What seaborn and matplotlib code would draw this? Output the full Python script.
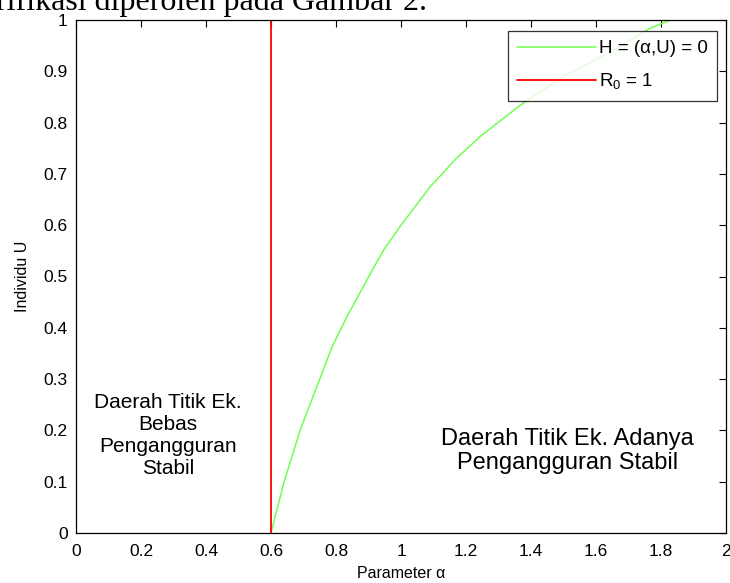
import numpy as np
import pandas as pd
import matplotlib
matplotlib.use("Agg")
import matplotlib.pyplot as plt
import seaborn as sns

# Data
h_alpha = [0.60, 0.639, 0.690, 0.75, 0.788, 0.834, 0.906, 0.947, 1.00, 1.09,
           1.17, 1.244, 1.367, 1.50, 1.65, 1.767, 1.829]
h_u = [0.0, 0.097, 0.201, 0.30, 0.363, 0.422, 0.506, 0.552, 0.60, 0.675,
       0.73, 0.773, 0.834, 0.89, 0.94, 0.984, 1.0]
r0_alpha = [0.6, 0.6]
r0_u = [0.0, 1.0]
x_ticks = [0, 0.2, 0.4, 0.6, 0.8, 1, 1.2, 1.4, 1.6, 1.8, 2]
x_tick_labels = ["0", "0.2", "0.4", "0.6", "0.8", "1", "1.2", "1.4", "1.6", "1.8", "2"]
y_ticks = [0, 0.1, 0.2, 0.3, 0.4, 0.5, 0.6, 0.7, 0.8, 0.9, 1]
y_tick_labels = ["0", "0.1", "0.2", "0.3", "0.4", "0.5", "0.6", "0.7", "0.8", "0.9", "1"]

sns.set_theme(style="white")
plt.rcParams["font.family"] = ["Liberation Sans", "DejaVu Sans"]
plt.rcParams["mathtext.fontset"] = "custom"
plt.rcParams["mathtext.rm"] = "Liberation Sans"
plt.rcParams["mathtext.it"] = "Liberation Sans"

fig = plt.figure(figsize=(7.30, 5.83), dpi=100)
ax = fig.add_axes([76 / 730, 1 - 533 / 583, 650 / 730, 513 / 583])

df_h = pd.DataFrame({"alpha": h_alpha, "U": h_u})
df_r = pd.DataFrame({"alpha": r0_alpha, "U": r0_u})
sns.lineplot(data=df_h, x="alpha", y="U", ax=ax, color="#70ff50", linewidth=1.1,
             sort=False, estimator=None, label="H = (\u03b1,U) = 0")
sns.lineplot(data=df_r, x="alpha", y="U", ax=ax, color="#ff0000", linewidth=1.3,
             sort=False, estimator=None, label=r"R$_0$ = 1")

ax.set_xlim(0, 2)
ax.set_ylim(0, 1)
ax.set_xticks(x_ticks)
ax.set_xticklabels(x_tick_labels)
ax.set_yticks(y_ticks)
ax.set_yticklabels(y_tick_labels)
ax.tick_params(direction="in", length=5, width=0.8, color="black",
               top=True, right=True, labelsize=12.5, labelcolor="black")
ax.tick_params(axis="x", pad=8)
ax.tick_params(axis="y", pad=6)
for s in ax.spines.values():
    s.set_visible(True)
    s.set_color("black")
    s.set_linewidth(0.9)
ax.set_xlabel("Parameter \u03b1", fontsize=11.5, color="black", labelpad=5)
ax.set_ylabel("Individu U", fontsize=11.5, color="black", labelpad=10)

leg = ax.legend(loc="upper right", bbox_to_anchor=(0.986, 0.979), borderaxespad=0,
                fontsize=13.5, frameon=True, fancybox=False, handlelength=4.2,
                handletextpad=0.15, borderpad=0.5, labelspacing=0.75)
leg.get_frame().set_edgecolor("black")
leg.get_frame().set_linewidth(0.9)
for t in leg.get_texts():
    t.set_color("black")

ax.text(0.284, 0.19, "Daerah Titik Ek.\nBebas\nPengangguran\nStabil", ha="center",
        va="center", fontsize=15, color="black", linespacing=1.22)
ax.text(1.512, 0.16, "Daerah Titik Ek. Adanya\nPengangguran Stabil", ha="center",
        va="center", fontsize=17, color="black", linespacing=1.15)

fig.text(-4 / 730, 1 - 10 / 583, "rifikasi diperoleh pada Gambar 2.", ha="left",
         va="baseline", fontsize=23, family="Liberation Serif", color="black")

fig.savefig("out.png", dpi=100, facecolor="white")
